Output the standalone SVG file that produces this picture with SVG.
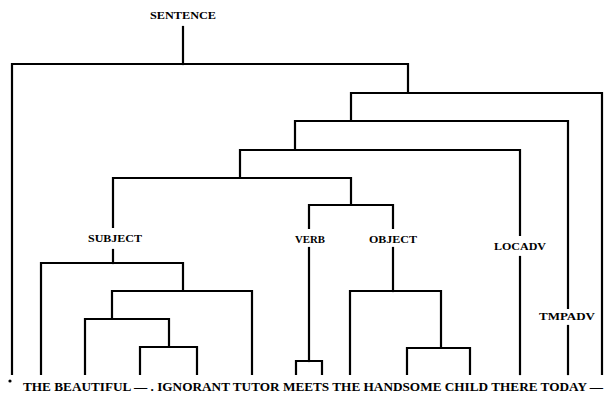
<svg xmlns="http://www.w3.org/2000/svg" width="604" height="394" viewBox="0 0 604 394">
  <style>
    .bg { fill: #ffffff; }
    .edge { fill: none; stroke: #000000; stroke-width: 2.2; stroke-linecap: square; stroke-linejoin: miter; }
    .lbl { font-family: "Liberation Serif", "Times New Roman", serif; font-weight: bold; fill: #000000; text-anchor: middle; }
    .words { font-family: "Liberation Serif", "Times New Roman", serif; font-weight: bold; fill: #000000; font-size: 12px; }
  </style>
  <rect class="bg" x="0" y="0" width="604" height="394"/>

  <!-- connectors: bracketed constituent tree -->
  <g id="connectors" class="edge">
    <!-- SENTENCE split -->
    <path d="M183,27 V64"/>
    <path d="M12,374 V64 H408 V93"/>
    <!-- nested predicate levels -->
    <path d="M602,374 V93 H351 V121"/>
    <path d="M568,308 V121 H295 V150"/>
    <path d="M568,326 V374"/>
    <path d="M520,235 V150 H240 V178"/>
    <path d="M520,257 V374"/>
    <path d="M113,227 V178 H351 V205"/>
    <!-- VERB / OBJECT fork -->
    <path d="M309,228 V205 H393 V228"/>
    <!-- SUBJECT subtree -->
    <path d="M113,250 V263"/>
    <path d="M41,374 V263 H183 V291"/>
    <path d="M112,319 V291 H252 V374"/>
    <path d="M85,374 V319 H169 V347"/>
    <path d="M140,374 V347 H197 V374"/>
    <!-- VERB subtree -->
    <path d="M309,248 V361"/>
    <path d="M296,374 V361 H322 V374"/>
    <!-- OBJECT subtree -->
    <path d="M393,248 V291"/>
    <path d="M350,374 V291 H441 V348"/>
    <path d="M407,374 V348 H470 V374"/>
  </g>

  <g id="node-sentence"><text class="lbl" x="183" y="19" font-size="10" textLength="66" lengthAdjust="spacingAndGlyphs">SENTENCE</text></g>
  <g id="node-subject"><text class="lbl" x="115" y="242" font-size="11" textLength="54" lengthAdjust="spacingAndGlyphs">SUBJECT</text></g>
  <g id="node-verb"><text class="lbl" x="310" y="243" font-size="11" textLength="30" lengthAdjust="spacingAndGlyphs">VERB</text></g>
  <g id="node-object"><text class="lbl" x="393" y="243" font-size="11" textLength="48" lengthAdjust="spacingAndGlyphs">OBJECT</text></g>
  <g id="node-locadv"><text class="lbl" x="520" y="250" font-size="11" textLength="52" lengthAdjust="spacingAndGlyphs">LOCADV</text></g>
  <g id="node-tmpadv"><text class="lbl" x="567" y="320" font-size="11" textLength="56" lengthAdjust="spacingAndGlyphs">TMPADV</text></g>

  <!-- terminal string -->
  <g id="terminals">
    <circle cx="10" cy="381" r="1.6" fill="#000000"/>
    <text class="words" x="23" y="391" textLength="580" lengthAdjust="spacingAndGlyphs">THE BEAUTIFUL — . IGNORANT TUTOR MEETS THE HANDSOME CHILD THERE TODAY —</text>
  </g>
</svg>
